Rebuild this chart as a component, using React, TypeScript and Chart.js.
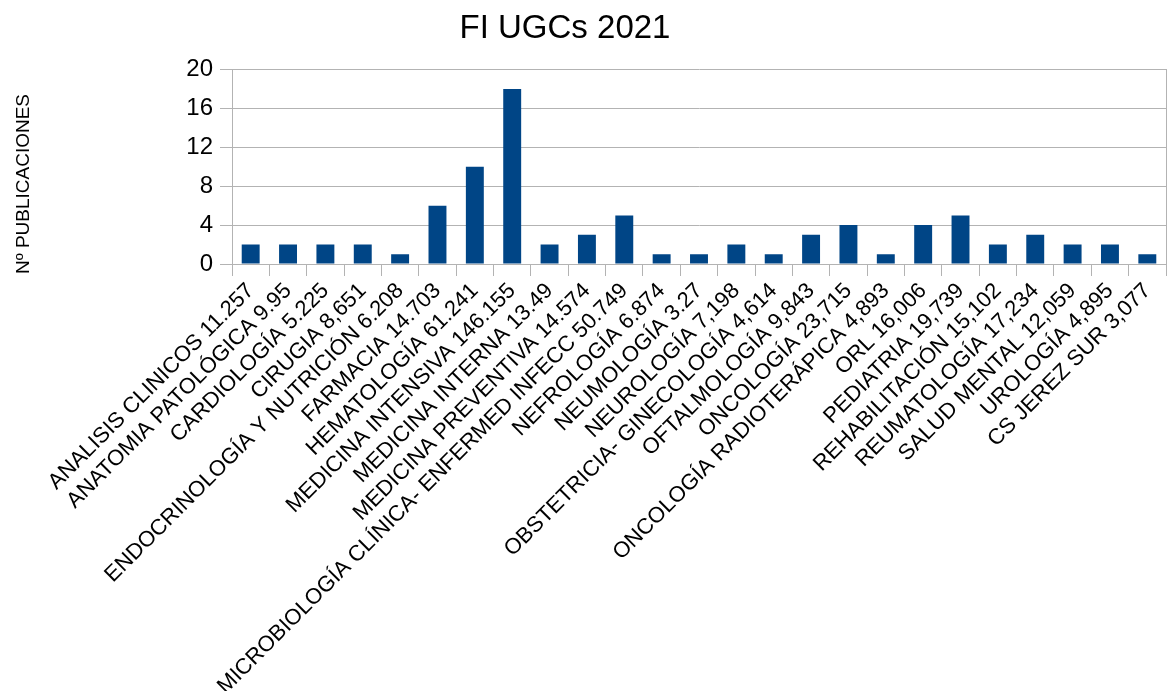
import { useEffect, useRef } from "react";
import { Chart, registerables } from "chart.js";

Chart.register(...registerables);

const chartTitle = "FI UGCs 2021";
const yAxisTitle = "Nº PUBLICACIONES";

const categories = [
  "ANALISIS CLINICOS 11.257",
  "ANATOMIA PATOLÓGICA 9.95",
  "CARDIOLOGÍA 5.225",
  "CIRUGIA 8,651",
  "ENDOCRINOLOGÍA Y NUTRICIÓN 6.208",
  "FARMACIA 14.703",
  "HEMATOLOGÍA 61.241",
  "MEDICINA INTENSIVA 146.155",
  "MEDICINA INTERNA 13.49",
  "MEDICINA PREVENTIVA 14.574",
  "MICROBIOLOGÍA CLÍNICA- ENFERMED INFECC 50.749",
  "NEFROLOGÍA 6.874",
  "NEUMOLOGÍA 3.27",
  "NEUROLOGÍA 7,198",
  "OBSTETRICIA- GINECOLOGÍA 4,614",
  "OFTALMOLOGÍA 9,843",
  "ONCOLOGÍA 23,715",
  "ONCOLOGÍA RADIOTERÁPICA 4,893",
  "ORL 16,006",
  "PEDIATRIA 19,739",
  "REHABILITACIÓN 15,102",
  "REUMATOLOGÍA 17,234",
  "SALUD MENTAL 12,059",
  "UROLOGÍA 4,895",
  "CS JEREZ SUR 3,077",
];

const publicaciones = [2, 2, 2, 2, 1, 6, 10, 18, 2, 3, 5, 1, 1, 2, 1, 3, 4, 1, 4, 5, 2, 3, 2, 2, 1];

const yMin = 0;
const yMax = 20;
const yGridStep = 2;
const yLabelStep = 4;

const FONT = "'Liberation Sans', Arial, Helvetica, sans-serif";
const W = 1169;
const H = 691;

export default function App() {
  const ref = useRef<HTMLCanvasElement | null>(null);

  useEffect(() => {
    if (!ref.current) return;
    const shiftTitle = {
      id: "shiftTitle",
      afterLayout(chart: any) {
        const tb = chart.titleBlock;
        if (tb) {
          tb.left = 0;
          tb.right = 1130;
        }
      },
    };
    const yTitlePlugin = {
      id: "yTitlePlugin",
      afterDraw(chart: any) {
        const ctx = chart.ctx;
        ctx.save();
        ctx.translate(24, 184);
        ctx.rotate(-Math.PI / 2);
        ctx.fillStyle = "#000000";
        ctx.font = `19px ${FONT}`;
        ctx.textAlign = "center";
        ctx.textBaseline = "middle";
        ctx.fillText(yAxisTitle, 0, 0);
        ctx.restore();
      },
    };
    const chart = new Chart(ref.current, {
      type: "bar",
      data: {
        labels: categories,
        datasets: [
          {
            label: yAxisTitle,
            data: publicaciones,
            backgroundColor: "#004586",
            borderWidth: 0,
            barPercentage: 0.48,
            categoryPercentage: 1,
          },
        ],
      },
      options: {
        responsive: false,
        animation: false,
        devicePixelRatio: 1,
        layout: { padding: { left: 0, right: 0, top: 0, bottom: 0 } },
        plugins: {
          legend: { display: false },
          tooltip: { enabled: false },
          title: {
            display: true,
            text: chartTitle,
            color: "#000000",
            font: { family: FONT, size: 33, weight: "normal" },
            padding: { top: 9, bottom: 21 },
          },
        },
        scales: {
          x: {
            type: "category",
            grid: {
              display: true,
              drawOnChartArea: false,
              drawTicks: true,
              tickLength: 12,
              color: "#b3b3b3",
              offset: true,
            },
            border: { display: true, color: "#b3b3b3" },
            ticks: {
              autoSkip: false,
              maxRotation: 45,
              minRotation: 45,
              padding: 2,
              color: "#000000",
              font: { family: FONT, size: 22 },
            },
            afterFit(scale: any) {
              scale.height = H - 264;
            },
          },
          y: {
            type: "linear",
            min: yMin,
            max: yMax,
            grid: {
              color: "#b3b3b3",
              tickLength: 12,
              drawTicks: true,
            },
            border: { display: true, color: "#b3b3b3" },
            ticks: {
              stepSize: yGridStep,
              padding: 7,
              color: "#000000",
              font: { family: FONT, size: 24 },
              callback: (v: any) => (Number(v) % yLabelStep === 0 ? String(v) : ""),
            },
            title: { display: false },
            afterFit(scale: any) {
              scale.width = 232;
            },
          },
          y2: {
            type: "linear",
            position: "right",
            min: yMin,
            max: yMax,
            grid: { display: false, drawOnChartArea: false },
            border: { display: true, color: "#b3b3b3" },
            ticks: { display: false },
            afterFit(scale: any) {
              scale.width = 3;
            },
          },
        },
      },
      plugins: [shiftTitle, yTitlePlugin],
    } as any);
    return () => chart.destroy();
  }, []);

  return (
    <div style={{ position: "absolute", left: 0, top: 0, width: W, height: H, background: "#ffffff" }}>
      <canvas ref={ref} width={W} height={H} style={{ width: W, height: H, display: "block" }} />
    </div>
  );
}
